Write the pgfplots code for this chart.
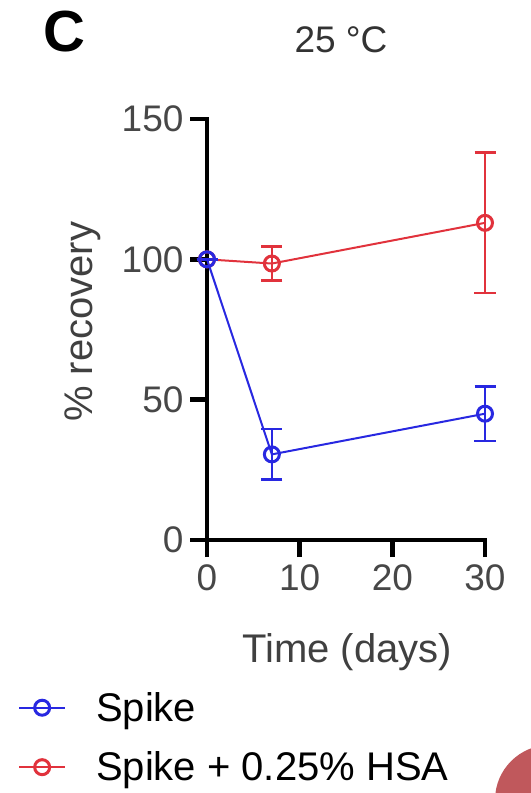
\documentclass[border=0pt]{standalone}
\usepackage{fontspec}
\setmainfont{Liberation Sans}
\usepackage{pgfplots}
\pgfplotsset{compat=1.18}

\definecolor{spikeblue}{RGB}{40,40,225}
\definecolor{hsared}{RGB}{225,50,60}
\definecolor{dotred}{RGB}{192,88,92}

\begin{document}
\begin{tikzpicture}
\useasboundingbox (0,0) rectangle (531bp,793bp);
% panel letter and title
\node[anchor=base west, inner sep=0pt, font=\bfseries\fontsize{58bp}{60bp}\selectfont] at (43bp,741bp) {C};
\node[anchor=base, inner sep=0pt, font=\fontsize{37bp}{44bp}\selectfont, text=black!80] at (341bp,740bp) {25 \textdegree C};
\begin{axis}[
    at={(207bp,253bp)}, anchor=south west,
    scale only axis, width=278bp, height=421bp,
    xmin=0, xmax=30, ymin=0, ymax=150,
    xtick={0,10,20,30}, ytick={0,50,100,150},
    axis lines=left,
    axis line style={-, line width=4.5bp, line cap=rect},
    every tick/.style={line width=4.5bp, black},
    major tick length=17bp, tick align=outside,
    xtick pos=bottom, ytick pos=left,
    tick label style={font=\fontsize{37bp}{44bp}\selectfont, text=black!72},
    xticklabel style={yshift=-4bp},
    yticklabel style={xshift=-3bp},
    /pgf/number format/assume math mode=true,
    xlabel={Time (days)},
    ylabel={\% recovery},
    label style={font=\fontsize{40bp}{48bp}\selectfont, text=black!75},
    xlabel style={at={(axis description cs:0.504,-0.29)}, anchor=base},
    ylabel style={at={(axis description cs:-0.446,0.518)}, anchor=center},
    clip=false,
    legend style={at={(axis description cs:-0.68,-0.357)}, anchor=north west,
        draw=none, fill=none, font=\fontsize{40bp}{48bp}\selectfont,
        row sep=25bp, column sep=28bp, inner sep=0pt},
    legend cell align=left,
    legend image code/.code={\draw[mark repeat=2,mark phase=2] plot coordinates {(0bp,0bp)(23bp,0bp)(46bp,0bp)};},
    reverse legend,
]
\addplot[hsared, line width=2bp, mark=o, mark size=7.5bp,
    mark options={line width=3bp, solid},
    error bars/.cd, y dir=both, y explicit,
    error bar style={line width=2.5bp},
    error mark options={rotate=90, mark size=10.5bp, line width=2.5bp}]
coordinates {(0,100) +- (0,0) (7,98.5) +- (0,6) (30,113) +- (0,25)};
\addlegendentry{Spike + 0.25\% HSA}
\addplot[spikeblue, line width=2bp, mark=o, mark size=7.5bp,
    mark options={line width=3bp, solid},
    error bars/.cd, y dir=both, y explicit,
    error bar style={line width=2.5bp},
    error mark options={rotate=90, mark size=10.5bp, line width=2.5bp}]
coordinates {(0,100) +- (0,0) (7,30.5) +- (0,9) (30,45) +- (0,9.7)};
\addlegendentry{Spike}
\end{axis}
% edge of a neighbouring marker, cut by the frame
\fill[dotred] (550bp,-7bp) circle (55bp);
\end{tikzpicture}
\end{document}
